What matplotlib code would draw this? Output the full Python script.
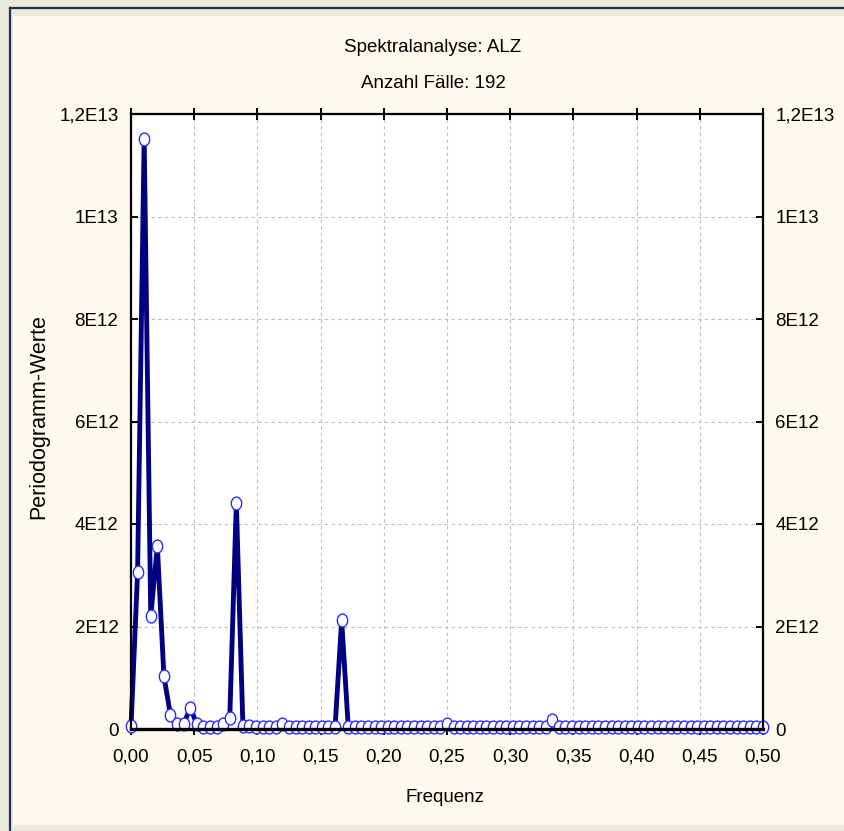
import numpy as np
import matplotlib
matplotlib.use("Agg")
import matplotlib.pyplot as plt
from matplotlib.patches import Rectangle
from matplotlib.path import Path

# periodogram values (in units of 1E12), k = 0..96, frequency k/192
N_CASES = 192
PERIODOGRAM_E12 = [
    0.05, 3.06, 11.51, 2.20, 3.57, 1.03, 0.27, 0.10, 0.10, 0.41,
    0.10, 0.04, 0.04, 0.04, 0.10, 0.21, 4.41, 0.05, 0.05, 0.04,
    0.04, 0.04, 0.04, 0.10, 0.04, 0.04, 0.04, 0.04, 0.04, 0.04,
    0.04, 0.04, 2.12, 0.04, 0.04, 0.04, 0.04, 0.04, 0.04, 0.04,
    0.04, 0.04, 0.04, 0.04, 0.04, 0.04, 0.04, 0.04, 0.10, 0.04,
    0.04, 0.04, 0.04, 0.04, 0.04, 0.04, 0.04, 0.04, 0.04, 0.04,
    0.04, 0.04, 0.04, 0.04, 0.18, 0.04, 0.04, 0.04, 0.04, 0.04,
    0.04, 0.04, 0.04, 0.04, 0.04, 0.04, 0.04, 0.04, 0.04, 0.04,
    0.04, 0.04, 0.04, 0.04, 0.04, 0.04, 0.04, 0.04, 0.04, 0.04,
    0.04, 0.04, 0.04, 0.04, 0.04, 0.04, 0.04,
]
X_TICKS = [0.00, 0.05, 0.10, 0.15, 0.20, 0.25, 0.30, 0.35, 0.40, 0.45, 0.50]
X_TICK_LABELS = ["0,00", "0,05", "0,10", "0,15", "0,20", "0,25",
                 "0,30", "0,35", "0,40", "0,45", "0,50"]
Y_TICKS = [0, 2e12, 4e12, 6e12, 8e12, 1e13, 1.2e13]
Y_TICK_LABELS = ["0", "2E12", "4E12", "6E12", "8E12", "1E13", "1,2E13"]

NARROW = ["Liberation Sans Narrow", "Liberation Sans", "DejaVu Sans"]
REGULAR = ["Liberation Sans", "DejaVu Sans"]
FS = 13.5

freq = np.arange(len(PERIODOGRAM_E12)) / N_CASES
vals = np.array(PERIODOGRAM_E12) * 1e12

W, H = 845, 831
fig = plt.figure(figsize=(W / 100, H / 100), dpi=100)
fig.patch.set_facecolor("#ECE9DF")

# window frame + cream panel
fig.patches.append(Rectangle((13 / W, (H - 825) / H), 1, (825 - 16) / H,
                             transform=fig.transFigure, facecolor="#FDF9EE",
                             edgecolor="none", zorder=-2))
fig.lines.append(plt.Line2D([10 / W, 10 / W], [0, 1 - 8 / H], transform=fig.transFigure,
                            color="#1F3350", lw=1.6, zorder=-1))
fig.lines.append(plt.Line2D([10 / W, 1], [1 - 8 / H, 1 - 8 / H], transform=fig.transFigure,
                            color="#1F3350", lw=1.6, zorder=-1))

ax = fig.add_axes([131 / W, (H - 729) / H, (763 - 131) / W, (729 - 114) / H])
ax.set_zorder(2)
ax.set_facecolor("white")

# slightly tall ellipse marker
t = np.linspace(0, 2 * np.pi, 40)
ell = Path(np.column_stack([0.8 * np.cos(t), np.sin(t)]), closed=True)

ax.plot(freq, vals, color="#000080", lw=3.5, zorder=3, clip_on=False,
        solid_joinstyle="miter")
ax.plot(freq, vals, ls="none", marker=ell, ms=9.3, mfc="white",
        mec="#2B2BFF", mew=1.0, zorder=4, clip_on=False)

ax.set_xlim(0, 0.5)
ax.set_ylim(0, 1.2e13)
ax.set_xticks(X_TICKS)
ax.set_xticklabels(X_TICK_LABELS, fontfamily=NARROW, fontsize=FS)
ax.set_yticks(Y_TICKS)
ax.set_yticklabels(Y_TICK_LABELS, fontfamily=NARROW, fontsize=FS)

ax.grid(True, color="#BDBDBD", ls=(0, (3, 3)), lw=0.8)
ax.set_axisbelow(True)

ax.tick_params(axis="x", which="both", direction="inout", length=8, width=1.4,
               top=True, pad=10)
ax.tick_params(axis="y", which="both", direction="in", length=5, width=1.4,
               right=True, labelright=True, pad=9)
for side in ax.spines:
    ax.spines[side].set_linewidth(1.6)
    ax.spines[side].set_zorder(5)
ax.spines["bottom"].set_linewidth(2.4)

fig.text(433 / W, 1 - 47 / H, "Spektralanalyse: ALZ", ha="center", va="center",
         fontfamily=NARROW, fontsize=FS)
fig.text(433 / W, 1 - 84 / H, "Anzahl Fälle: 192", ha="center", va="center",
         fontfamily=NARROW, fontsize=FS)
fig.text(445 / W, 1 - 798 / H, "Frequenz", ha="center", va="center",
         fontfamily=NARROW, fontsize=FS)
fig.text(39 / W, 1 - 417 / H, "Periodogramm-Werte", ha="center", va="center",
         rotation=90, fontfamily=REGULAR, fontsize=15.5)

fig.savefig("out.png", dpi=100, facecolor=fig.get_facecolor())
